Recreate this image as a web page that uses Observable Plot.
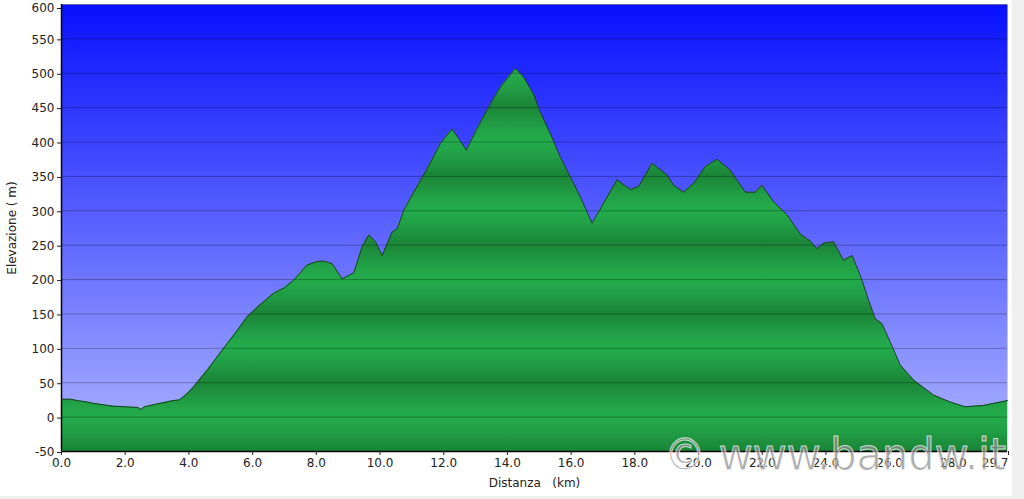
<!DOCTYPE html>
<html>
<head>
<meta charset="utf-8">
<script src="https://cdn.jsdelivr.net/npm/d3@7"></script>
<script src="https://cdn.jsdelivr.net/npm/@observablehq/plot@0.6"></script>
<style>
  html, body { margin: 0; padding: 0; background: #efefef; }
  #wrap { width: 1012px; height: 496px; background: #ffffff; overflow: hidden; }
  svg text { white-space: pre; }
</style>
</head>
<body>
<div id="wrap"></div>
<script>
const dist = [0.0, 0.3, 0.5, 0.8, 1.0, 1.3, 1.6, 2.0, 2.4, 2.5, 2.6, 3.1, 3.5, 3.7, 3.9, 4.15, 4.57, 5.09, 5.5, 5.83,
  6.2, 6.66, 7.0, 7.29, 7.71, 8.0, 8.23, 8.5, 8.81, 9.18, 9.44, 9.65, 9.86, 10.07, 10.38, 10.54, 10.75, 11.06, 11.48, 11.9,
  12.26, 12.47, 12.71, 13.05, 13.4, 13.78, 14.25, 14.5, 14.82, 15.03, 15.35, 15.66, 15.98, 16.29, 16.66, 17.02, 17.44, 17.86, 18.12, 18.54,
  19.01, 19.22, 19.53, 19.85, 20.21, 20.58, 21.0, 21.47, 21.78, 21.99, 22.36, 22.78, 23.2, 23.51, 23.72, 23.93, 24.24, 24.55, 24.82, 25.08,
  25.34, 25.55, 25.76, 26.02, 26.33, 26.75, 27.38, 27.9, 28.37, 28.95, 29.7];
const elev = [26, 26, 24, 22, 20, 18, 16, 15, 14, 11, 15, 20, 24, 25, 32, 44, 68, 100, 125, 146,
  162, 180, 188, 199, 221, 226, 227, 223, 201, 210, 248, 265, 255, 235, 269, 274, 301, 327, 361, 398,
  419, 405, 388, 420, 450, 480, 507, 495, 470, 444, 412, 378, 349, 320, 282, 311, 345, 331, 335, 369,
  352, 337, 327, 340, 364, 375, 359, 327, 327, 337, 313, 294, 266, 256, 245, 253, 255, 228, 235, 206,
  170, 143, 136, 109, 76, 54, 32, 22, 15, 17, 24];
const xTicks = [0, 2, 4, 6, 8, 10, 12, 14, 16, 18, 20, 22, 24, 26, 28];
const xTickEnd = [29.7];
const yTicks = [-50, 0, 50, 100, 150, 200, 250, 300, 350, 400, 450, 500, 550];
const yTickTop = [600];
const xLabel = "Distanza\u00a0\u00a0\u00a0(km)";
const yLabel = "Elevazione ( m)";
const watermark = "\u00a9 www.bandw.it";

const data = dist.map((d, i) => ({dist: d, elev: elev[i]}));
const yMin = -50;
const allY = yTicks.concat(yTickTop);

const plot = Plot.plot({
  width: 1012,
  height: 496,
  marginLeft: 61,
  marginRight: 5,
  marginTop: 4,
  marginBottom: 45,
  style: {fontFamily: "'DejaVu Sans', Verdana, sans-serif", fontSize: "12px", color: "#222", background: "transparent"},
  x: {domain: [0, 29.7]},
  y: {domain: [-50, 600]},
  marks: [
    Plot.frame({fill: "url(#bgGrad)", stroke: null}),
    Plot.areaY(data, {x: "dist", y1: yMin, y2: "elev", fill: "url(#greenBands)"}),
    Plot.gridY(allY, {stroke: "#000", strokeOpacity: 0.28, strokeWidth: 1}),
    Plot.lineY(data, {x: "dist", y: "elev", stroke: "#1c3f26", strokeWidth: 1}),
    Plot.ruleX([0], {stroke: "#000", strokeWidth: 1.5}),
    Plot.ruleY([yMin], {stroke: "#000", strokeWidth: 1.5}),
    Plot.axisY({ticks: yTicks, tickSize: 4, tickPadding: 3, tickFormat: d => String(d), dy: 1,
      label: yLabel, labelAnchor: "center", labelArrow: "none", labelOffset: 54, fontSize: 12}),
    Plot.axisY({ticks: yTickTop, tickSize: 4, tickPadding: 3, tickFormat: d => String(d), dy: 4,
      label: null, fontSize: 12}),
    Plot.axisX({ticks: xTicks, tickSize: 4, tickPadding: 3, tickFormat: d3.format(".1f"),
      label: xLabel, labelAnchor: "center", labelArrow: "none", labelOffset: 35, fontSize: 12}),
    Plot.axisX({ticks: xTickEnd, tickSize: 4, tickPadding: 3, tickFormat: d3.format(".1f"),
      label: null, textAnchor: "end", dx: 1, fontSize: 12})
  ]
});

const svg = d3.select(plot);
const ys = plot.scale("y");
const y0 = ys.apply(0), y100 = ys.apply(100);
const defs = svg.insert("defs", ":first-child");
const bg = defs.append("linearGradient").attr("id", "bgGrad")
  .attr("x1", 0).attr("y1", 0).attr("x2", 0).attr("y2", 1);
bg.append("stop").attr("offset", "0%").attr("stop-color", "#0810ff");
bg.append("stop").attr("offset", "100%").attr("stop-color", "#aeb6ff");

const gb = defs.append("linearGradient").attr("id", "greenBands")
  .attr("gradientUnits", "userSpaceOnUse").attr("spreadMethod", "repeat")
  .attr("x1", 0).attr("x2", 0).attr("y1", y100).attr("y2", y0);
gb.append("stop").attr("offset", "0%").attr("stop-color", "#23ab4b");
gb.append("stop").attr("offset", "20%").attr("stop-color", "#21a046");
gb.append("stop").attr("offset", "48%").attr("stop-color", "#1b8538");
gb.append("stop").attr("offset", "58%").attr("stop-color", "#1d8c3b");
gb.append("stop").attr("offset", "85%").attr("stop-color", "#22a548");
gb.append("stop").attr("offset", "100%").attr("stop-color", "#23ab4b");

svg.append("text")
  .attr("x", 664).attr("y", 470)
  .attr("text-anchor", "start")
  .attr("textLength", 342).attr("lengthAdjust", "spacingAndGlyphs")
  .style("font-family", "'DejaVu Sans', Verdana, sans-serif")
  .style("font-size", "44px")
  .attr("fill", "#8e8e8e").attr("stroke", "#ffffff").attr("stroke-width", 1)
  .attr("opacity", 0.72)
  .text(watermark);

document.getElementById("wrap").appendChild(plot);
</script>
</body>
</html>
